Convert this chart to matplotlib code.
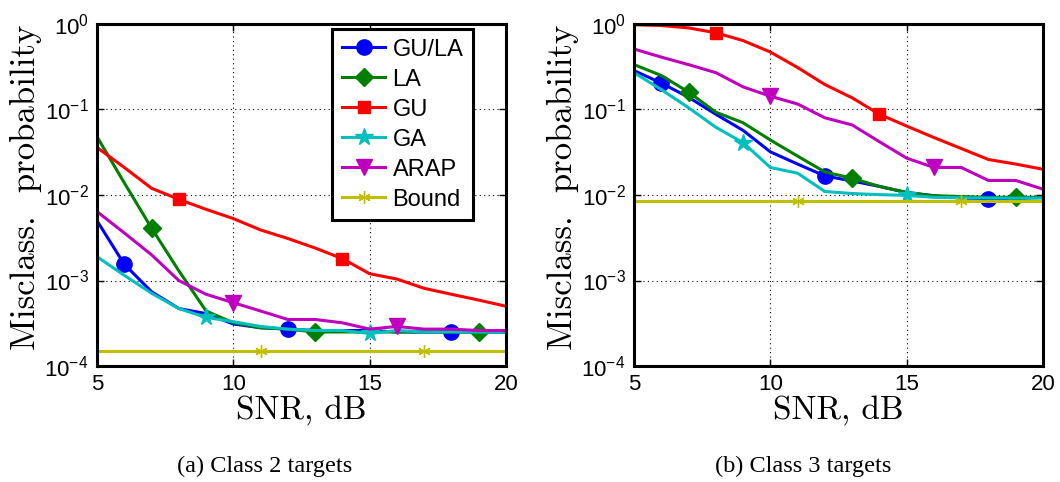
import matplotlib
matplotlib.use("Agg")
import matplotlib.pyplot as plt
from matplotlib.ticker import FixedLocator, FixedFormatter, NullLocator

plt.rcParams['font.family'] = ['Liberation Sans', 'DejaVu Sans']
plt.rcParams['mathtext.fontset'] = 'custom'
plt.rcParams['mathtext.rm'] = 'Liberation Sans'
plt.rcParams['mathtext.it'] = 'Liberation Sans:italic'

snr = list(range(5, 21))

# Class 2 targets
c2_gula = [0.0050, 0.00155, 0.00074, 0.00047, 0.00041, 0.00031, 0.00028, 0.00027,
           0.00026, 0.00026, 0.00026, 0.00025, 0.00025, 0.00025, 0.00025, 0.00025]
c2_la = [0.048, 0.0139, 0.0041, 0.0013, 0.00044, 0.00032, 0.00028, 0.00027,
         0.00025, 0.00025, 0.00025, 0.00025, 0.00025, 0.00025, 0.00025, 0.00025]
c2_gu = [0.036, 0.021, 0.012, 0.0089, 0.0068, 0.0053, 0.0039, 0.0031,
         0.0024, 0.0018, 0.0012, 0.00104, 0.00081, 0.00069, 0.00059, 0.00050]
c2_ga = [0.0019, 0.00115, 0.00071, 0.00047, 0.00037, 0.00033, 0.00029, 0.00027,
         0.00026, 0.00026, 0.00024, 0.00026, 0.00025, 0.00025, 0.00025, 0.00025]
c2_arap = [0.0064, 0.0036, 0.0020, 0.0010, 0.00069, 0.00055, 0.00044, 0.00035,
           0.00035, 0.00032, 0.00027, 0.00029, 0.00027, 0.00027, 0.00026, 0.00026]
c2_bound = [0.000148] * 16

# Class 3 targets
c3_gula = [0.285, 0.204, 0.139, 0.088, 0.057, 0.032, 0.023, 0.0167,
           0.0146, 0.0126, 0.0107, 0.0098, 0.0092, 0.0091, 0.0091, 0.0094]
c3_la = [0.335, 0.25, 0.16, 0.093, 0.070, 0.044, 0.0285, 0.0186,
         0.0157, 0.0126, 0.0107, 0.0098, 0.0096, 0.0094, 0.0094, 0.0094]
c3_gu = [0.98, 0.96, 0.90, 0.79, 0.64, 0.47, 0.31, 0.196,
         0.137, 0.088, 0.064, 0.047, 0.035, 0.026, 0.023, 0.020]
c3_ga = [0.27, 0.171, 0.105, 0.062, 0.041, 0.021, 0.018, 0.011,
         0.0104, 0.0101, 0.0099, 0.0094, 0.0093, 0.0092, 0.0092, 0.0092]
c3_arap = [0.51, 0.41, 0.335, 0.27, 0.184, 0.143, 0.116, 0.080,
           0.066, 0.042, 0.027, 0.021, 0.021, 0.0148, 0.0148, 0.0117]
c3_bound = [0.0086] * 16

labels = ['GU/LA', 'LA', 'GU', 'GA', 'ARAP', 'Bound']
colors = ['#0000FF', '#007F00', '#FF0000', '#00BFBF', '#BF00BF', '#BFBF00']
markers = ['o', 'D', 's', '*', 'v', (6, 2, 0)]
msizes = [11, 9, 9, 13, 11, 9]
mevery = [[1, 7, 13], [2, 8, 14], [3, 9], [4, 10], [5, 11], [6, 12]]

xticks = [5, 10, 15, 20]
yticks = [1e-4, 1e-3, 1e-2, 1e-1, 1e0]
ytick_labels = [r'$10^{-4}$', r'$10^{-3}$', r'$10^{-2}$', r'$10^{-1}$', r'$10^{0}$']

fig = plt.figure(figsize=(10.6, 4.82), dpi=100)
ax1 = fig.add_axes([97/1060, 116/482, 409/1060, 342/482])
ax2 = fig.add_axes([634/1060, 116/482, 409/1060, 342/482])

for ax, data in [(ax1, [c2_gula, c2_la, c2_gu, c2_ga, c2_arap, c2_bound]),
                 (ax2, [c3_gula, c3_la, c3_gu, c3_ga, c3_arap, c3_bound])]:
    for y, lab, c, m, ms, me in zip(data, labels, colors, markers, msizes, mevery):
        ax.semilogy(snr, y, color=c, lw=2.2, marker=m, ms=ms, markevery=me,
                    mec=c, mfc=c, label=lab)
    ax.set_xlim(5, 20)
    ax.set_ylim(1e-4, 1e0)
    ax.xaxis.set_major_locator(FixedLocator(xticks))
    ax.yaxis.set_major_locator(FixedLocator(yticks))
    ax.yaxis.set_major_formatter(FixedFormatter(ytick_labels))
    ax.yaxis.set_minor_locator(NullLocator())
    ax.grid(True, which='major', color='black', ls=(0, (1, 3)), lw=0.8)
    ax.tick_params(direction='in', top=True, right=True, length=5, width=1,
                   labelsize=16, pad=6)
    for s in ax.spines.values():
        s.set_linewidth(2.2)
    ax.set_xlabel('SNR, dB', fontfamily='cmr10', fontsize=24, labelpad=0)
    ax.set_ylabel('Misclass.  probability', fontfamily='cmr10', fontsize=25, labelpad=2)
    ax.yaxis.label.set_y(0.523)

leg = ax1.legend(loc='upper right', bbox_to_anchor=(0.919, 0.985), fontsize=17,
                 frameon=True, fancybox=False, numpoints=1,
                 edgecolor='black', framealpha=1, handlelength=1.85,
                 borderpad=0.4, labelspacing=0.34, handletextpad=0.3,
                 borderaxespad=0)
leg.get_frame().set_linewidth(2.2)

fig.text(265/1060, 1 - 466/482, '(a) Class 2 targets', ha='center', va='center',
         fontfamily='Liberation Serif', fontsize=17.5)
fig.text(803/1060, 1 - 466/482, '(b) Class 3 targets', ha='center', va='center',
         fontfamily='Liberation Serif', fontsize=17.5)

fig.savefig('out.png', dpi=100)
